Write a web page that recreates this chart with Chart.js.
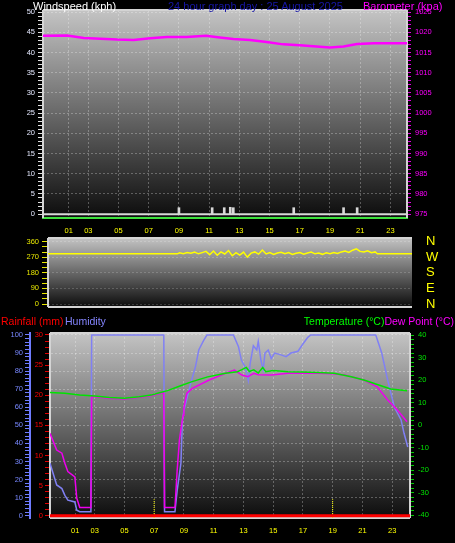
<!DOCTYPE html>
<html>
<head>
<meta charset="utf-8">
<title>24 hour graph</title>
<script src="https://cdn.jsdelivr.net/npm/chart.js@4.4.1/dist/chart.umd.min.js"></script>
<style>
  html, body { margin: 0; padding: 0; background: #000; }
  #wrap { position: relative; width: 455px; height: 543px; overflow: hidden; background: #000;
          font-family: "Liberation Sans", Arial, sans-serif; }
  canvas { position: absolute; left: 0; }
  .lbl { position: absolute; white-space: nowrap; line-height: 12px; }
  .top { font-size: 11px; top: -0.5px; }
  .bot { font-size: 10.5px; top: 315.4px; }
</style>
</head>
<body>
<div id="wrap">
  <canvas id="windChart" width="455" height="236" style="top:0"></canvas>
  <canvas id="dirChart" width="455" height="82" style="top:230px"></canvas>
  <canvas id="climateChart" width="455" height="231" style="top:312px"></canvas>

  <span class="lbl top" style="left:33px;color:#ffffff">Windspeed (kph)</span>
  <span class="lbl top" style="left:168px;color:#1616a8">24 hour graph day : 25 August 2025</span>
  <span class="lbl top" style="left:363px;color:#ff00ff">Barometer (kpa)</span>

  <span class="lbl bot" style="left:1px;color:#ff0000">Rainfall (mm)</span>
  <span class="lbl bot" style="left:65px;color:#8585ff">Humidity</span>
  <span class="lbl bot" style="right:1px;"><span style="color:#00ff00">Temperature (°C)</span><span style="color:#ff00ff">Dew Point (°C)</span></span>
</div>

<script>
// x axis, hours since the start of the day
const hourTicks = [1.7, 3, 5, 7, 9, 11, 13, 15, 17, 19, 21, 23];
const hourLabels = ["01", "03", "05", "07", "09", "11", "13", "15", "17", "19", "21", "23"];

// top panel: windspeed and barometer
const windTicks = [0, 5, 10, 15, 20, 25, 30, 35, 40, 45, 50];
const baroTicks = [975, 980, 985, 990, 995, 1000, 1005, 1010, 1015, 1020, 1025];
const gustHours = [9.0, 11.2, 12.0, 12.4, 12.6, 16.6, 19.9, 20.8];
const gustKph = [1.6, 1.6, 1.6, 1.7, 1.6, 1.6, 1.6, 1.6];
const avgWindHours = [0, 24.1];
const avgWindKph = [0, 0];
const baroHours = [0, 1.6, 2.7, 3.8, 4.9, 6.0, 7.1, 8.2, 9.5, 10.8, 11.7, 12.6, 13.7, 14.8, 15.9, 17.0, 18.1, 19.0, 19.9, 20.8, 21.9, 24.1];
const baroHpa = [1019.1, 1019.2, 1018.6, 1018.4, 1018.2, 1018.1, 1018.5, 1018.8, 1018.8, 1019.1, 1018.7, 1018.3, 1018.1, 1017.6, 1017.0, 1016.8, 1016.5, 1016.2, 1016.5, 1017.1, 1017.3, 1017.3];

// middle panel: wind direction
const dirTicks = [0, 90, 180, 270, 360];
const compassLabels = ["N", "E", "S", "W", "N"];
const dirHours = [0, 8.6,
  8.75, 9, 9.25, 9.5, 9.75, 10, 10.25, 10.5, 10.75, 11,
  11.25, 11.5, 11.75, 12, 12.25, 12.5, 12.75, 13, 13.25, 13.5,
  13.75, 14, 14.25, 14.5, 14.75, 15, 15.25, 15.5, 15.75, 16,
  16.25, 16.5, 16.75, 17, 17.25, 17.5, 17.75, 18, 18.25, 18.5,
  18.75, 19, 19.25, 19.5, 19.75, 20, 20.25, 20.5, 20.75, 21,
  21.25, 21.5, 21.75, 21.9, 24.2];
const dirDeg = [290, 290,
  296, 291, 298, 293, 300, 290, 297, 304, 285, 306,
  282, 301, 289, 309, 279, 297, 283, 300, 271, 294,
  301, 288, 312, 289, 297, 286, 295, 299, 290, 297,
  286, 293, 297, 288, 295, 300, 290, 294, 287, 296,
  291, 298, 292, 301, 306, 298, 311, 319, 304, 300,
  307, 296, 301, 290, 290];

// bottom panel: rainfall, humidity, temperature, dew point
const humTicks = [0, 10, 20, 30, 40, 50, 60, 70, 80, 90, 100];
const rainTicks = [0, 5, 10, 15, 20, 25, 30];
const tempTicks = [-40, -30, -20, -10, 0, 10, 20, 30, 40];
const rainHours = [0, 24.2];
const rainMm = [0, 0];
const humHours = [0, 0.45, 0.8, 1.0, 1.2, 1.67, 1.8, 2.0, 2.75, 2.8, 7.65, 7.7, 8.4, 8.55, 8.8, 8.9,
  9.0, 9.45, 9.78, 10.0, 10.33, 10.55, 12.33, 12.67, 12.87, 13.1, 13.33, 13.45, 13.67, 13.9, 14.0,
  14.18, 14.33, 14.45, 14.67, 14.87, 15.1, 15.53, 15.87, 16.2, 16.67, 17.0, 17.33, 17.53,
  21.9, 22.3, 22.7, 23.15, 23.6, 23.8, 24.05];
const humPct = [29, 17, 15, 11.3, 8.6, 7.6, 3, 2.2, 2.2, 100, 100, 2.2, 2.2, 14, 29, 53,
  58, 73, 82.5, 91.7, 97, 100, 100, 93.5, 86, 82.5, 74.7, 84, 94, 91.7, 96.4,
  86, 80.6, 90, 91.7, 87, 90, 89, 88, 90, 91, 95, 98.7, 100,
  100, 90, 75, 60, 53, 45.6, 38];
const tempHours = [0, 1.0, 2.0, 3.0, 4.0, 5.0, 6.0, 6.8, 7.3, 7.9, 8.6, 9.5, 10.6, 11.8, 12.6, 12.9,
  13.2, 13.4, 13.7, 14.0, 14.3, 14.5, 15.0, 16.0, 17.0, 18.0, 19.1, 20.25, 21.1, 21.8, 22.9, 24.0];
const tempC = [14.5, 14.1, 13.3, 12.9, 12.2, 11.9, 12.6, 13.3, 14.2, 15.3, 17.0, 19.2, 21.4, 23.0, 23.7, 24.6,
  25.6, 23.8, 24.5, 23.1, 25.6, 23.7, 24.2, 23.7, 23.6, 23.3, 23.0, 21.5, 20.0, 18.5, 16.0, 15.2];
const dewHours = [0, 0.45, 0.8, 1.0, 1.2, 1.67, 1.8, 2.0, 2.75, 2.8, 3.0, 4.0, 5.0, 6.0, 6.8, 7.3, 7.65,
  7.7, 8.4, 8.55, 8.7, 8.8, 8.95, 9.0, 9.2, 9.6, 10.7, 11.8, 12.4, 12.9, 13.3, 13.7, 14.0, 14.9,
  16.0, 18.0, 19.0, 19.8, 21.1, 22.0, 22.7, 23.35, 24.0];
const dewC = [-3.7, -11.1, -12.5, -17, -20.7, -23, -32.5, -36.6, -36.6, 12.6, 12.6, 11.9, 11.6, 12.3, 13.0, 13.9, 14.5,
  -36.6, -36.6, -20, -6.7, -2, 4.4, 7.6, 14.2, 16.4, 20, 23, 24.4, 22.2, 21.5, 23, 22.4, 22.2,
  23, 23, 22.8, 22.2, 20, 17, 11.1, 6.7, 1.5];
const sunMarkHours = [7, 19];
const sunMarkTopC = -33;

const FONT = { family: "'Liberation Sans', Arial, sans-serif", size: 7.5 };
const GRID = "rgba(255,255,255,0.28)";

function pts(xs, ys) {
  return xs.map((x, i) => ({ x: x, y: ys[i] }));
}

// ticks at every minor step, labels and grid lines only on the listed values
function tickSet(majors, step) {
  return (scale) => {
    const t = [];
    for (let v = majors[0]; v <= majors[majors.length - 1] + 1e-6; v += step) {
      t.push({ value: Math.round(v * 100) / 100 });
    }
    scale.ticks = t;
  };
}
const isMajor = (majors) => (c) => c.tick && majors.includes(c.tick.value);

// fixed axis width, and no extra room asked for the end labels
function fixWidth(w) {
  return (s) => { s.width = w; s.paddingTop = 0; s.paddingBottom = 0; };
}

const panelBack = {
  id: "panelBack",
  beforeDraw(chart) {
    const { ctx, chartArea: a } = chart;
    const g = ctx.createLinearGradient(0, a.top, 0, a.bottom);
    g.addColorStop(0, "#c4c4c4");
    g.addColorStop(1, "#0c0c0c");
    ctx.save();
    ctx.fillStyle = g;
    ctx.fillRect(a.left, a.top, a.right - a.left, a.bottom - a.top);
    ctx.restore();
  },
  beforeDatasetsDraw(chart, args, opts) {
    const { ctx, chartArea: a } = chart;
    const sides = opts.sides || [];
    ctx.save();
    ctx.strokeStyle = "#d4d4d4";
    ctx.lineWidth = 2;
    ctx.beginPath();
    if (sides.includes("left")) { ctx.moveTo(a.left, a.top); ctx.lineTo(a.left, a.bottom); }
    if (sides.includes("top")) { ctx.moveTo(a.left, a.top); ctx.lineTo(a.right, a.top); }
    if (sides.includes("right")) { ctx.moveTo(a.right, a.top); ctx.lineTo(a.right, a.bottom); }
    if (sides.includes("bottom")) { ctx.moveTo(a.left, a.bottom); ctx.lineTo(a.right, a.bottom); }
    ctx.stroke();
    ctx.restore();
  }
};

Chart.defaults.animation = false;
Chart.defaults.events = [];
Chart.defaults.plugins.legend.display = false;
Chart.defaults.plugins.tooltip.enabled = false;
Chart.defaults.elements.point.radius = 0;
Chart.defaults.elements.line.tension = 0;

function hourAxis(max, height, pad, show) {
  return {
    type: "linear", min: 0, max: max, display: show, offset: false,
    afterBuildTicks: (s) => { s.ticks = hourTicks.map((v) => ({ value: v })); },
    afterFit: (s) => { s.height = height; s.paddingLeft = 0; s.paddingRight = 0; },
    ticks: { autoSkip: false, maxRotation: 0, color: "#ffff00", font: FONT, padding: pad,
             callback: (v, i) => hourLabels[i] },
    grid: { color: GRID, drawTicks: false, offset: false },
    border: { display: false, dash: [2, 2] }
  };
}

// windspeed + barometer
new Chart(document.getElementById("windChart"), {
  type: "line",
  data: {
    datasets: [
      { data: pts(baroHours, baroHpa), yAxisID: "yBaro", borderColor: "#ff00ff", borderWidth: 2.5 },
      { data: pts(avgWindHours, avgWindKph), yAxisID: "yWind", borderColor: "#d8d8d8", borderWidth: 2 },
      { type: "bar", data: pts(gustHours, gustKph), yAxisID: "yWind", backgroundColor: "#d8d8d8", barThickness: 2 }
    ]
  },
  options: {
    responsive: false,
    layout: { padding: { top: 10 } },
    plugins: { panelBack: { sides: ["left", "top", "right"] } },
    scales: {
      x: Object.assign(hourAxis(24.1, 18, 8, true), { border: { color: "#3ee03e", width: 2, dash: [2, 2] } }),
      yWind: {
        position: "left", min: -0.95, max: 50.5,
        afterBuildTicks: tickSet(windTicks, 1),
        afterFit: fixWidth(43),
        ticks: { autoSkip: false, color: "#e4e8ff", font: FONT, padding: 3,
                 callback: (v) => (windTicks.includes(v) ? String(v) : "") },
        grid: { color: (c) => (isMajor(windTicks)(c) ? GRID : "transparent"), tickColor: "#e0e0e0", tickLength: 5 },
        border: { display: false, dash: [2, 2] }
      },
      yBaro: {
        position: "right", min: 974.05, max: 1025.5,
        afterBuildTicks: tickSet(baroTicks, 1),
        afterFit: fixWidth(48),
        ticks: { autoSkip: false, color: "#ff00ff", font: FONT, padding: 4,
                 callback: (v) => (baroTicks.includes(v) ? String(v) : "") },
        grid: { drawOnChartArea: false, tickColor: "#e000e0", tickLength: 4 },
        border: { display: false }
      }
    }
  },
  plugins: [panelBack]
});

// wind direction
new Chart(document.getElementById("dirChart"), {
  type: "line",
  data: {
    datasets: [
      { data: pts(dirHours, dirDeg), yAxisID: "yDir", borderColor: "#ffff00", borderWidth: 1.5 }
    ]
  },
  options: {
    responsive: false,
    layout: { padding: { top: 8, bottom: 5 } },
    plugins: { panelBack: { sides: ["left", "top", "bottom"] } },
    scales: {
      x: hourAxis(24.2, 0, 0, false),
      yDir: {
        position: "left", min: -17.3, max: 381.4,
        afterBuildTicks: tickSet(dirTicks, 30),
        afterFit: fixWidth(48),
        ticks: { autoSkip: false, color: "#e6e600", font: FONT, padding: 3,
                 callback: (v) => (dirTicks.includes(v) ? String(v) : "") },
        grid: { color: (c) => (isMajor(dirTicks)(c) ? "rgba(255,255,255,0.18)" : "transparent"),
                tickColor: "#e6e600", tickLength: 6 },
        border: { display: false, dash: [2, 2] }
      },
      yCompass: {
        position: "right", min: -17.3, max: 381.4,
        afterBuildTicks: (s) => { s.ticks = dirTicks.map((v) => ({ value: v })); },
        afterFit: fixWidth(43),
        ticks: { autoSkip: false, color: "#ffff00", padding: 14,
                 font: { family: "'Liberation Sans', Arial, sans-serif", size: 13 },
                 callback: (v, i) => compassLabels[i] },
        grid: { drawOnChartArea: false, drawTicks: false },
        border: { display: false }
      }
    }
  },
  plugins: [panelBack]
});

// rainfall, humidity, temperature, dew point
const sunMarkSets = sunMarkHours.map((h) => ({
  data: [{ x: h, y: -41.3 }, { x: h, y: sunMarkTopC }],
  yAxisID: "yTemp", borderColor: "#ffff00", borderWidth: 1, borderDash: [1, 1]
}));

new Chart(document.getElementById("climateChart"), {
  type: "line",
  data: {
    datasets: [
      { data: pts(rainHours, rainMm), yAxisID: "yRain", borderColor: "#ff0000", borderWidth: 3 },
      { data: pts(tempHours, tempC), yAxisID: "yTemp", borderColor: "#00e400", borderWidth: 1.5 },
      { data: pts(dewHours, dewC), yAxisID: "yTemp", borderColor: "#ee00ee", borderWidth: 1.5 },
      { data: pts(humHours, humPct), yAxisID: "yHum", borderColor: "#8080f4", borderWidth: 1.5 }
    ].concat(sunMarkSets)
  },
  options: {
    responsive: false,
    layout: { padding: { top: 21 } },
    plugins: { panelBack: { sides: ["left", "top", "right", "bottom"] } },
    scales: {
      x: hourAxis(24.2, 25, 8, true),
      yHum: {
        position: "left", weight: 2, min: -1.27, max: 101.1,
        afterBuildTicks: tickSet(humTicks, 2),
        afterFit: fixWidth(30),
        ticks: { autoSkip: false, color: "#7888ff", font: FONT, padding: 2,
                 callback: (v) => (humTicks.includes(v) ? String(v) : "") },
        grid: { color: (c) => (isMajor(humTicks)(c) ? GRID : "transparent"), tickColor: "#6f7cff", tickLength: 5 },
        border: { color: "#6f7cff", width: 2, dash: [2, 2] }
      },
      yRain: {
        position: "left", weight: 1, min: -0.38, max: 30.33,
        afterBuildTicks: tickSet(rainTicks, 1),
        afterFit: fixWidth(20),
        ticks: { autoSkip: false, color: "#ff0000", font: FONT, padding: 2,
                 callback: (v) => (rainTicks.includes(v) ? String(v) : "") },
        grid: { drawOnChartArea: false, tickColor: "#e00000", tickLength: 5 },
        border: { display: false }
      },
      yTemp: {
        position: "right", min: -41.3, max: 40.9,
        afterBuildTicks: tickSet(tempTicks, 2),
        afterFit: fixWidth(45),
        ticks: { autoSkip: false, color: "#00e400", font: FONT, padding: 4,
                 callback: (v) => (tempTicks.includes(v) ? String(v) : "") },
        grid: { drawOnChartArea: false, tickColor: "#00d000", tickLength: 4 },
        border: { display: false }
      }
    }
  },
  plugins: [panelBack]
});
</script>
</body>
</html>
